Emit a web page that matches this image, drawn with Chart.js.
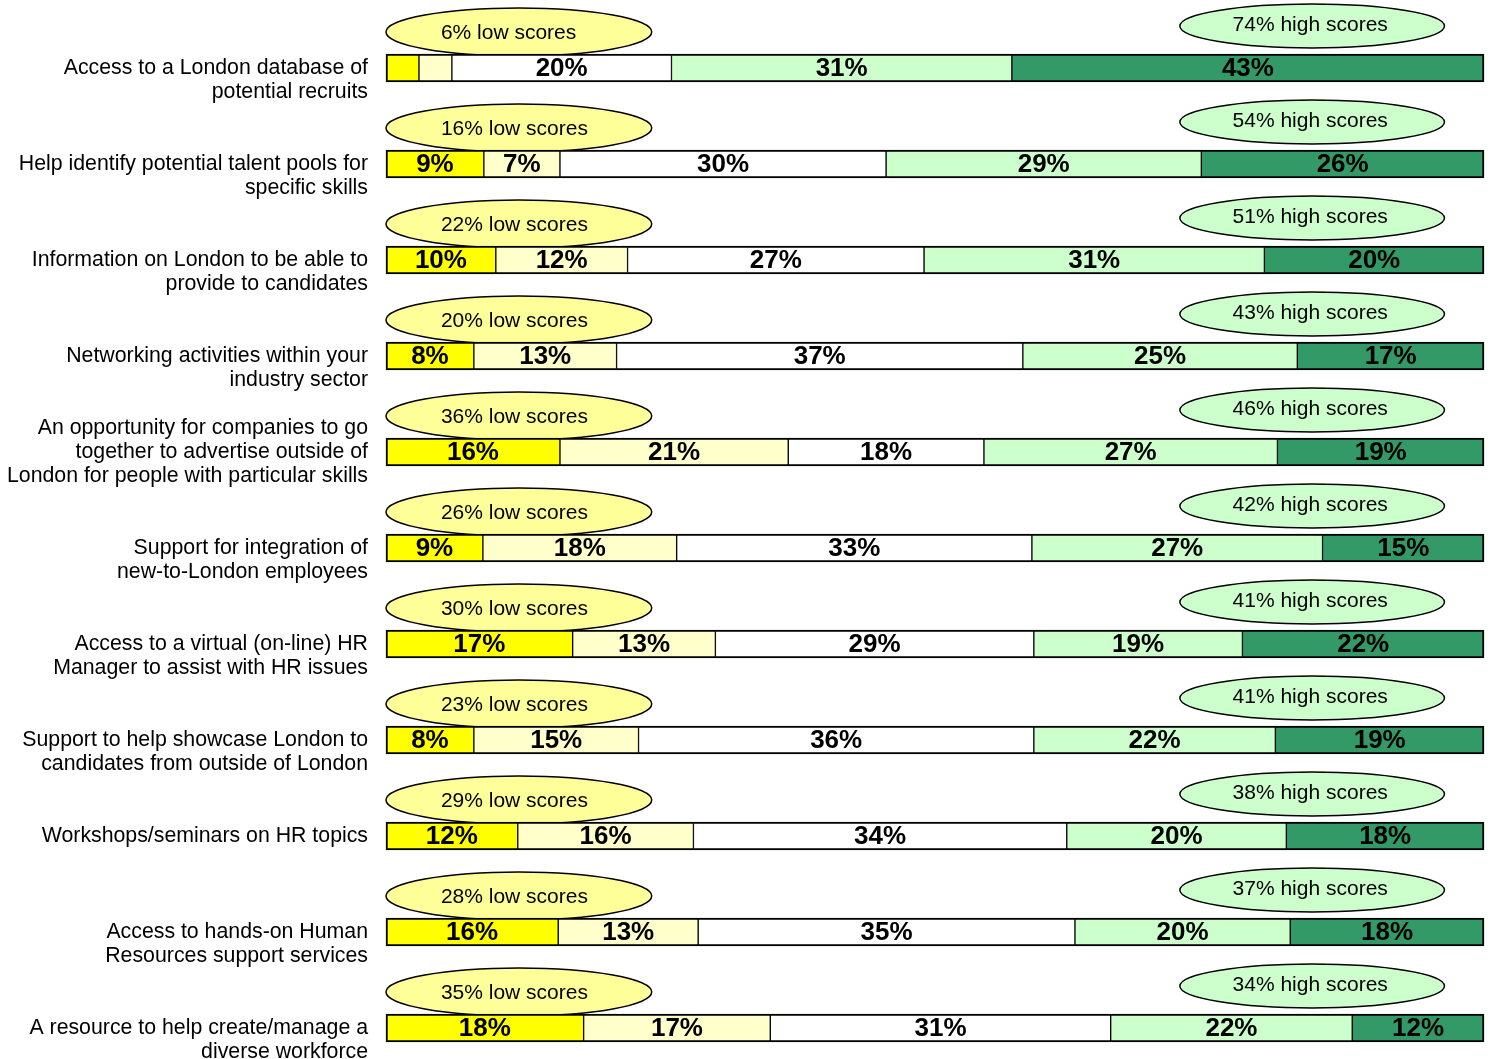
<!DOCTYPE html>
<html>
<head>
<meta charset="utf-8">
<script src="https://cdn.jsdelivr.net/npm/chart.js@4/dist/chart.umd.min.js"></script>
<style>
  html, body { margin: 0; padding: 0; background: #fff; }
  #wrap { width: 1491px; height: 1059px; position: relative; }
</style>
</head>
<body>
<div id="wrap"><canvas id="chart"></canvas></div>
<script>
// ----- data -----
const categories = [
  ['Access to a London database of', 'potential recruits'],
  ['Help identify potential talent pools for', 'specific skills'],
  ['Information on London to be able to', 'provide to candidates'],
  ['Networking activities within your', 'industry sector'],
  ['An opportunity for companies to go', 'together to advertise outside of', 'London for people with particular skills'],
  ['Support for integration of', 'new-to-London employees'],
  ['Access to a virtual (on-line) HR', 'Manager to assist with HR issues'],
  ['Support to help showcase London to', 'candidates from outside of London'],
  ['Workshops/seminars on HR topics'],
  ['Access to hands-on Human', 'Resources support services'],
  ['A resource to help create/manage a', 'diverse workforce']
];
const score1 = [3, 9, 10, 8, 16, 9, 17, 8, 12, 16, 18];
const score2 = [3, 7, 12, 13, 21, 18, 13, 15, 16, 13, 17];
const score3 = [20, 30, 27, 37, 18, 33, 29, 36, 34, 35, 31];
const score4 = [31, 29, 31, 25, 27, 27, 19, 22, 20, 20, 22];
const score5 = [43, 26, 20, 17, 19, 15, 22, 19, 18, 18, 12];
const lowScores = [6, 16, 22, 20, 36, 26, 30, 23, 29, 28, 35];
const highScores = [74, 54, 51, 43, 46, 42, 41, 41, 38, 37, 34];

const series = [score1, score2, score3, score4, score5];
const colors = ['#ffff00', '#ffffcc', '#ffffff', '#ccffcc', '#339966'];
const FONT = "'Liberation Sans', Arial, sans-serif";

// each row is drawn as a share of its own total so every bar fills the axis
const rowTotals = categories.map((_, i) => series.reduce((s, arr) => s + arr[i], 0));

const datasets = series.map((arr, k) => ({
  label: 'score ' + (k + 1),
  data: arr.map((v, i) => v / rowTotals[i] * 100),
  raw: arr,
  backgroundColor: colors[k],
  borderColor: '#000',
  borderWidth: { top: 2, bottom: 2, left: k === 0 ? 2 : 1, right: k === 4 ? 2 : 1 },
  borderSkipped: false,
  barThickness: 28,
  clip: false
}));

// ellipses above each bar (low / high score callouts)
const calloutPlugin = {
  id: 'callouts',
  beforeDatasetsDraw(chart) {
    const { ctx, scales: { x, y } } = chart;
    ctx.save();
    categories.forEach((_, i) => {
      const yc = y.getPixelForValue(i);
      // low
      let x0 = x.getPixelForValue(0), x1 = x.getPixelForValue(24.2);
      ctx.beginPath();
      ctx.ellipse((x0 + x1) / 2, yc - 36, (x1 - x0) / 2, 24, 0, 0, Math.PI * 2);
      ctx.fillStyle = '#ffff99';
      ctx.fill();
      ctx.lineWidth = 1.5;
      ctx.strokeStyle = '#000';
      ctx.stroke();
      ctx.fillStyle = '#000';
      ctx.font = '21px ' + FONT;
      ctx.textAlign = 'left';
      ctx.textBaseline = 'middle';
      ctx.fillText(lowScores[i] + '% low scores', x.getPixelForValue(5), yc - 35);
      // high
      x0 = x.getPixelForValue(72.3); x1 = x.getPixelForValue(96.4);
      ctx.beginPath();
      ctx.ellipse((x0 + x1) / 2, yc - 42, (x1 - x0) / 2, 22, 0, 0, Math.PI * 2);
      ctx.fillStyle = '#ccffcc';
      ctx.fill();
      ctx.stroke();
      ctx.fillStyle = '#000';
      ctx.fillText(highScores[i] + '% high scores', x.getPixelForValue(77.1), yc - 43);
    });
    ctx.restore();
  },
  afterDatasetsDraw(chart) {
    const { ctx } = chart;
    ctx.save();
    ctx.font = 'bold 26px ' + FONT;
    ctx.textAlign = 'center';
    ctx.textBaseline = 'middle';
    ctx.fillStyle = '#000';
    chart.data.datasets.forEach((ds, k) => {
      chart.getDatasetMeta(k).data.forEach((el, i) => {
        const v = ds.raw[i];
        if (v < 5) return;
        ctx.fillText(v + '%', (el.x + el.base) / 2, el.y + 1);
      });
    });
    ctx.restore();
  }
};

new Chart(document.getElementById('chart'), {
  type: 'bar',
  data: { labels: categories.map((_, i) => i), datasets },
  options: {
    indexAxis: 'y',
    responsive: true,
    maintainAspectRatio: false,
    animation: false,
    layout: { padding: { top: 68, bottom: 31, left: 0, right: 7 } },
    plugins: { legend: { display: false }, tooltip: { enabled: false } },
    scales: {
      x: { stacked: true, min: 0, max: 100, display: false },
      y: {
        stacked: true,
        offset: false,
        grid: { display: false, drawTicks: false, tickLength: 0 },
        border: { display: false },
        afterFit(scale) {
          scale.width = 386;
          scale.paddingTop = 0;
          scale.paddingBottom = 0;
        },
        ticks: {
          autoSkip: false,
          padding: 18,
          color: '#000',
          font: { family: FONT, size: 21.3, lineHeight: 24 / 21.3 },
          callback: (v) => {
            const lines = categories[v];
            return lines.length === 2 ? [''].concat(lines) : lines;
          }
        }
      }
    }
  },
  plugins: [calloutPlugin]
});
</script>
</body>
</html>
